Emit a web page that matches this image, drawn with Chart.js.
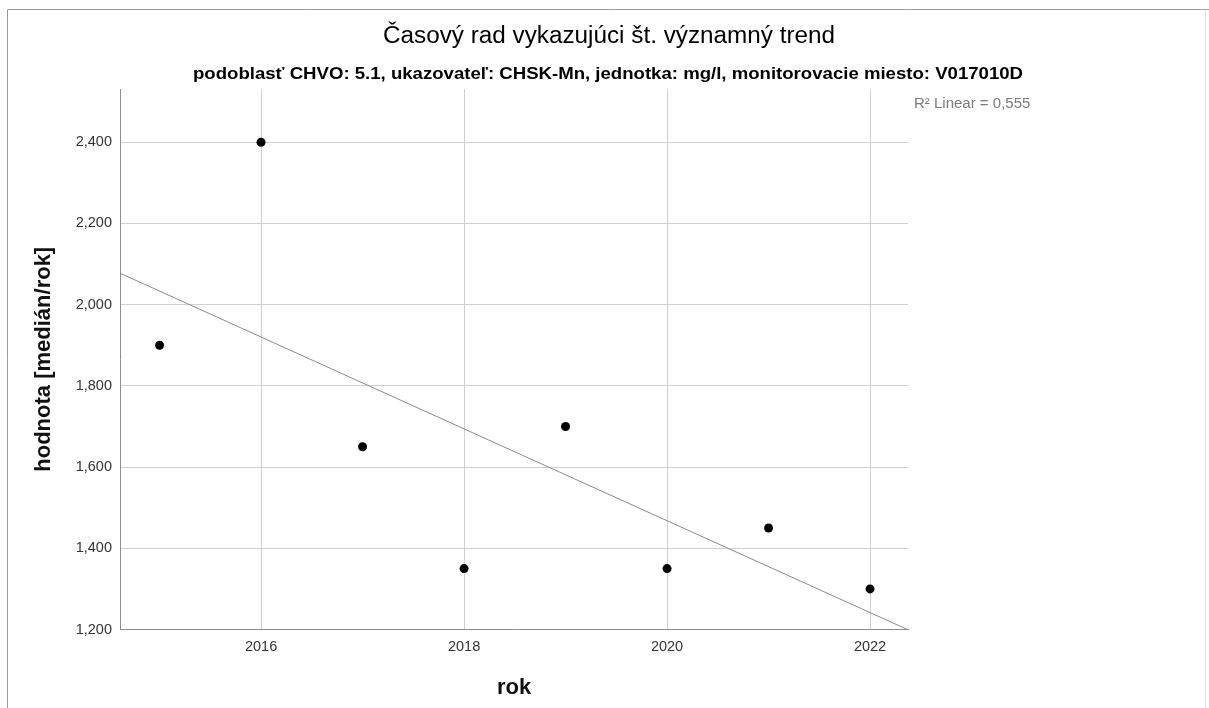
<!DOCTYPE html>
<html>
<head>
<meta charset="utf-8">
<script src="https://cdn.jsdelivr.net/npm/chart.js@4/dist/chart.umd.min.js"></script>
<style>
    html, body { margin: 0; padding: 0; background: #fff; }
    #chart { display: block; }
</style>
</head>
<body>
<canvas id="chart" width="1209" height="708"></canvas>
<script>
// Data
const years = [2015, 2016, 2017, 2018, 2019, 2020, 2021, 2022];
const medians = [1900, 2400, 1650, 1350, 1700, 1350, 1450, 1300];

const xMin = 2014.61;
const xMax = 2022.374;
const yMin = 1200;
const yMax = 2531;

const titleText = 'Časový rad vykazujúci št. významný trend';
const subtitleText = 'podoblasť CHVO: 5.1, ukazovateľ: CHSK-Mn, jednotka: mg/l, monitorovacie miesto: V017010D';
const r2Text = 'R² Linear = 0,555';

// Least squares fit for the trend line
function linearFit(xs, ys) {
    const n = xs.length;
    const mx = xs.reduce((s, v) => s + v, 0) / n;
    const my = ys.reduce((s, v) => s + v, 0) / n;
    let sxy = 0, sxx = 0;
    for (let i = 0; i < n; i++) {
        sxy += (xs[i] - mx) * (ys[i] - my);
        sxx += (xs[i] - mx) * (xs[i] - mx);
    }
    const slope = sxy / sxx;
    return { slope, intercept: my - slope * mx };
}

const fit = linearFit(years, medians);
const trendPoints = [xMin, xMax].map(x => ({ x, y: fit.intercept + fit.slope * x }));
const scatterPoints = years.map((y, i) => ({ x: y, y: medians[i] }));

// Frame, titles and R2 label
const decorations = {
    id: 'decorations',
    beforeDraw(chart) {
        const ctx = chart.ctx;
        ctx.save();
        ctx.fillStyle = '#fff';
        ctx.fillRect(0, 0, chart.width, chart.height);
        ctx.strokeStyle = '#9a9a9a';
        ctx.lineWidth = 1;
        ctx.beginPath();
        ctx.moveTo(7.5, chart.height);
        ctx.lineTo(7.5, 9.5);
        ctx.lineTo(chart.width, 9.5);
        ctx.stroke();
        // faint right edge
        ctx.strokeStyle = '#e2e2e2';
        ctx.beginPath();
        ctx.moveTo(1205.5, 9.5);
        ctx.lineTo(1205.5, chart.height);
        ctx.stroke();
        ctx.restore();
    },
    afterDraw(chart) {
        const ctx = chart.ctx;
        const drawFitted = (text, font, cx, baseline, width, color) => {
            ctx.save();
            ctx.font = font;
            ctx.fillStyle = color;
            ctx.textAlign = 'center';
            ctx.textBaseline = 'alphabetic';
            const w = ctx.measureText(text).width;
            ctx.translate(cx, baseline);
            ctx.scale(width / w, 1);
            ctx.fillText(text, 0, 0);
            ctx.restore();
        };
        drawFitted(titleText, '23px "Liberation Sans", Arial, sans-serif', 609, 43, 452, '#000');
        drawFitted(subtitleText, 'bold 16px "Liberation Sans", Arial, sans-serif', 608, 78.5, 830, '#000');

        ctx.save();
        ctx.font = '15px "Liberation Sans", Arial, sans-serif';
        ctx.fillStyle = '#7a7a7a';
        ctx.textAlign = 'left';
        ctx.textBaseline = 'alphabetic';
        ctx.fillText(r2Text, 914, 108);
        ctx.restore();
    }
};

const ctx = document.getElementById('chart').getContext('2d');
new Chart(ctx, {
    type: 'scatter',
    data: {
        datasets: [{
            label: 'hodnota',
            data: scatterPoints,
            backgroundColor: '#000',
            borderColor: '#000',
            pointRadius: 4.5,
            pointBorderWidth: 0
        }, {
            label: 'trend',
            type: 'line',
            data: trendPoints,
            borderColor: '#8a8a8a',
            borderWidth: 1,
            pointRadius: 0,
            fill: false
        }]
    },
    options: {
        responsive: false,
        animation: false,
        devicePixelRatio: 1,
        layout: {
            padding: { top: 89, right: 301, bottom: 0, left: 0 }
        },
        plugins: {
            legend: { display: false },
            tooltip: { enabled: false },
            title: { display: false }
        },
        scales: {
            x: {
                type: 'linear',
                min: xMin,
                max: xMax,
                afterFit: (scale) => { scale.height = 78.5; },
                grid: { color: '#cfcfcf', drawTicks: false },
                border: { color: '#8c8c8c', width: 1 },
                ticks: {
                    stepSize: 2,
                    includeBounds: false,
                    padding: 9,
                    color: '#333',
                    font: { family: '"Liberation Sans", Arial, sans-serif', size: 14.5 },
                    callback: (v) => String(v)
                },
                title: {
                    display: true,
                    text: 'rok',
                    color: '#111',
                    font: { family: '"Liberation Sans", Arial, sans-serif', size: 22, weight: 'bold' },
                    padding: { top: 0, bottom: 7 }
                }
            },
            y: {
                min: yMin,
                max: yMax,
                afterFit: (scale) => { scale.width = 120; },
                grid: { color: '#cfcfcf', drawTicks: false },
                border: { color: '#8c8c8c', width: 1 },
                ticks: {
                    stepSize: 200,
                    includeBounds: false,
                    padding: 8,
                    color: '#333',
                    font: { family: '"Liberation Sans", Arial, sans-serif', size: 14.5 },
                    callback: (v) => v.toLocaleString('en-US')
                },
                title: {
                    display: true,
                    text: 'hodnota [medián/rok]',
                    color: '#111',
                    font: { family: '"Liberation Sans", Arial, sans-serif', size: 22, weight: 'bold' },
                    padding: { top: 31, bottom: 0 }
                }
            }
        }
    },
    plugins: [decorations]
});
</script>
</body>
</html>
